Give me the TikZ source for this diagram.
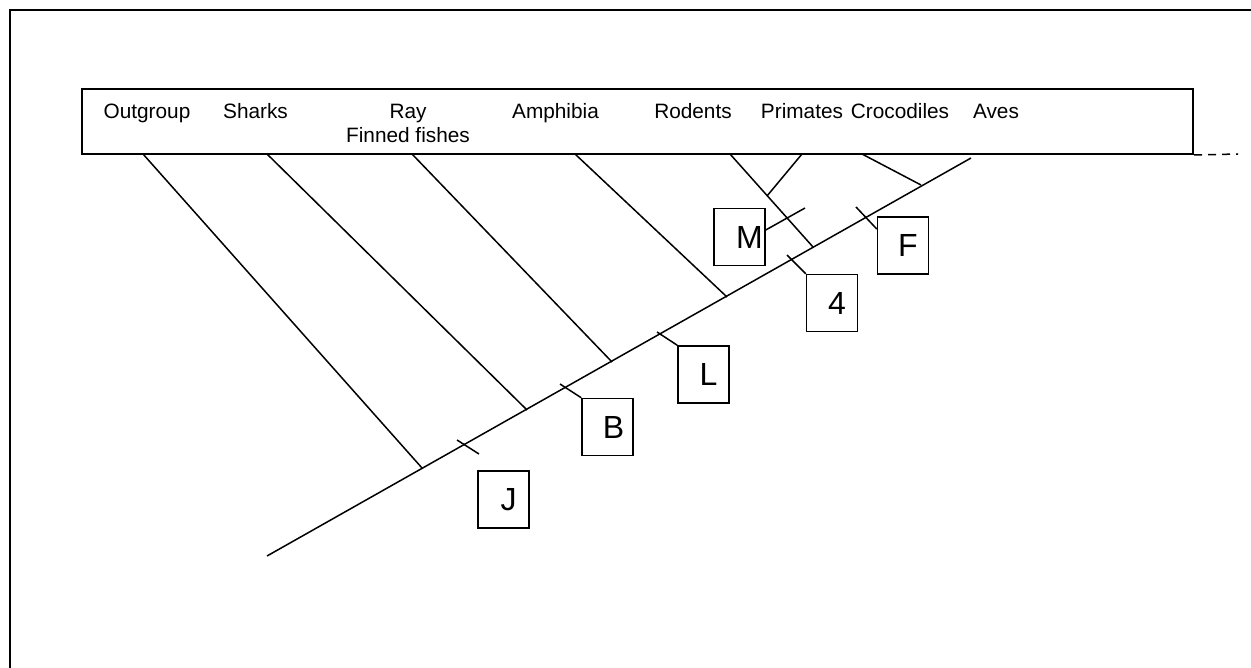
\documentclass[tikz,border=0pt]{standalone}
\usepackage{fontspec}
\setmainfont{Liberation Sans}
\begin{document}
\begin{tikzpicture}[x=0.5pt,y=-0.5pt,
  frame/.style={line width=1pt},
  branch/.style={line width=0.75pt},
  lbl/.style={anchor=base, inner sep=0pt, font=\fontsize{10.4}{12}\selectfont},
  charbox/.style={draw, line width=0.75pt, minimum width=25.5pt, minimum height=28.5pt, inner sep=0pt, font=\fontsize{16}{19}\selectfont}]
\useasboundingbox (0,0) rectangle (1251,668);
% outer frame
\draw[frame] (1251,10) -- (10,10) -- (10,668);
% taxa box
\node[draw, frame, inner sep=0pt, minimum width=555.5pt, minimum height=32.5pt] (taxa) at (637.5,121.5) {};
\coordinate (dashEnd) at (1238,154);
\draw[line width=0.75pt, dash pattern=on 4pt off 3pt] (taxa.south east) -- (dashEnd);
% labels
\node[lbl] (outgroup) at (147,119) {Outgroup};
\node[lbl] (sharks) at (255.5,119) {Sharks};
\node[lbl] (ray) at (408,119) {\begin{tabular}[t]{@{}c@{}}Ray\\Finned fishes\end{tabular}};
\node[lbl] (amph) at (555.5,119) {Amphibia};
\node[lbl] (rod) at (693,119) {Rodents};
\node[lbl] (prim) at (802,119) {Primates};
\node[lbl] (croc) at (900,119) {Crocodiles};
\node[lbl] (aves) at (996,119) {Aves};
% main line
\coordinate (root) at (267,556);
\coordinate (tAves) at (971,158);
\draw[branch] (root) -- (tAves);
% branch tops and junctions
\coordinate (tOut) at (143,154);  \coordinate (jOut) at (422,468);
\coordinate (tSha) at (267,154);  \coordinate (jSha) at (527,410);
\coordinate (tRay) at (412,154);  \coordinate (jRay) at (612,362);
\coordinate (tAmp) at (575,154);  \coordinate (jAmp) at (727,297);
\coordinate (tRod) at (730,154);  \coordinate (jRod) at (813,247);
\coordinate (tPri) at (802,154);  \coordinate (jPri) at (767,196);
\coordinate (tCro) at (862,154);  \coordinate (jCro) at (921,185);
\draw[branch] (tOut) -- (jOut);
\draw[branch] (tSha) -- (jSha);
\draw[branch] (tRay) -- (jRay);
\draw[branch] (tAmp) -- (jAmp);
\draw[branch] (tRod) -- (jRod);
\draw[branch] (tPri) -- (jPri);
\draw[branch] (tCro) -- (jCro);
% character boxes
\node[charbox] (J) at (503.5,499.5) {\hspace*{5pt}J};
\node[charbox] (B) at (607.5,427) {\hspace*{6pt}B};
\node[charbox] (L) at (703.5,374.5) {\hspace*{5pt}L};
\node[charbox] (M) at (739.5,237) {\hspace*{10pt}M};
\node[charbox] (four) at (832,303) {\hspace*{5pt}4};
\node[charbox] (F) at (903,245.5) {\hspace*{5pt}F};
% ticks
\coordinate (kJa) at (457,440); \coordinate (kJb) at (479,454);
\draw[branch] (kJa) -- (kJb);
\coordinate (kB) at (560,384);
\draw[branch] (kB) -- (B.north west);
\coordinate (kL) at (657,332);
\draw[branch] (kL) -- (L.north west);
\coordinate (k4) at (787,255);
\draw[branch] (k4) -- (four.north west);
\coordinate (kF) at (856,207);
\draw[branch] (kF) -- (F.west |- 0,229);
\coordinate (kM) at (805,208);
\draw[branch] (M.east |- 0,230) -- (kM);
\end{tikzpicture}
\end{document}
